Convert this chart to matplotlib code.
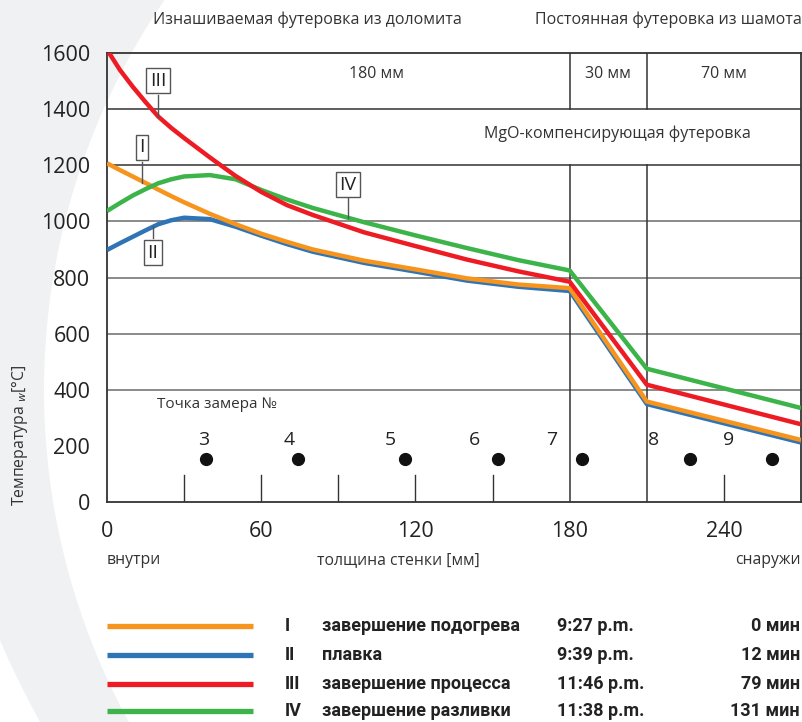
import numpy as np
import matplotlib
matplotlib.use("Agg")
import matplotlib.pyplot as plt
from matplotlib.patches import Circle

# ---------------- data ----------------
x_prof = [0, 5, 10, 15, 20, 25, 30, 40, 50, 60, 70, 80, 100, 120, 140, 160, 180, 210, 270]
temp_I = [1207, 1183, 1160, 1137, 1113, 1090, 1068, 1027, 990, 956, 927, 900, 860, 829, 797, 775, 762, 358, 221]
temp_II = [898, 922, 945, 968, 990, 1004, 1013, 1008, 981, 949, 919, 892, 852, 821, 789, 767, 752, 349, 212]
temp_III = [1612, 1540, 1480, 1425, 1373, 1333, 1297, 1228, 1162, 1105, 1058, 1023, 961, 912, 864, 822, 785, 418, 277]
temp_IV = [1037, 1065, 1092, 1115, 1136, 1150, 1160, 1165, 1150, 1112, 1078, 1048, 997, 950, 905, 862, 825, 475, 335]

point_x = [38.6, 74.4, 116, 152, 184.7, 226.7, 258.7]
point_y = [155] * 7
point_labels = ["3", "4", "5", "6", "7", "8", "9"]
point_label_x = [37.4, 70.9, 110.2, 142.9, 172.9, 212.7, 241.9]

x_ticks = [0, 60, 120, 180, 240]
y_ticks = [0, 200, 400, 600, 800, 1000, 1200, 1400, 1600]
minor_marks = [30, 60, 90, 120, 150, 240]

legend_roman = ["I", "II", "III", "IV"]
legend_desc = ["завершение подогрева", "плавка", "завершение процесса", "завершение разливки"]
legend_time = ["9:27 p.m.", "9:39 p.m.", "11:46 p.m.", "11:38 p.m."]
legend_min = ["0 мин", "12 мин", "79 мин", "131 мин"]

c_I, c_II, c_III, c_IV = "#f7941d", "#2f74b5", "#ed1c24", "#3cb44a"
colors = [c_I, c_II, c_III, c_IV]

plt.rcParams['font.family'] = ['Open Sans', 'DejaVu Sans']

W, H = 803, 722
fig = plt.figure(figsize=(W / 100, H / 100), dpi=100)
fig.patch.set_facecolor("white")

# background ring
def px(xp, yp):
    return (xp / 100, (H - yp) / 100)

outer = Circle(px(900, 250), 9.81, transform=fig.dpi_scale_trans, fc="#f0f1f3", ec="none", zorder=-10)
inner = Circle(px(736, 390), 6.92, transform=fig.dpi_scale_trans, fc="white", ec="none", zorder=-9)
fig.patches.extend([outer, inner])

ax = fig.add_axes([107 / W, 1 - 502 / H, (801 - 107) / W, (502 - 53) / H])
ax.patch.set_alpha(0)
ax.set_xlim(0, 270)
ax.set_ylim(0, 1600)

grid_c = "#6b6b6b"
for y in [400, 600, 800, 1000]:
    ax.axhline(y, color=grid_c, lw=1.1, zorder=1)
for y in [1200, 1400]:
    ax.axhline(y, color="#333333", lw=1.1, zorder=1)
for xv in [180, 210]:
    ax.plot([xv, xv], [0, 1200], color="#333333", lw=1.1, zorder=1)
    ax.plot([xv, xv], [1400, 1600], color="#333333", lw=1.1, zorder=1)
for xv in minor_marks:
    ax.plot([xv, xv], [0, 96], color="#333333", lw=1.0, zorder=1)

for s in ax.spines.values():
    s.set_color("#333333")
    s.set_linewidth(1.3)

ax.set_xticks(x_ticks)
ax.set_yticks(y_ticks)
ax.tick_params(length=0, labelsize=15.5, colors="#222222", pad=12)
ax.tick_params(axis='x', pad=14)

lw = 3.2
ax.plot(x_prof, temp_II, color=c_II, lw=lw, zorder=3, solid_capstyle='butt')
ax.plot(x_prof, temp_I, color=c_I, lw=lw, zorder=4, solid_capstyle='butt')
ax.plot(x_prof, temp_IV, color=c_IV, lw=lw, zorder=5, solid_capstyle='butt')
ax.plot(x_prof, temp_III, color=c_III, lw=lw, zorder=6, solid_capstyle='butt')

# curve labels with leader lines
box = dict(boxstyle="square,pad=0.18", fc="white", ec="#555555", lw=1.0)
labels = [("III", 19.9, 1502, 1452, 1371), ("I", 13.6, 1264, 1212, 1136),
          ("II", 17.9, 889, 940, 985), ("IV", 93.7, 1130, 1082, 1011)]
for t, lx, ly, y0, y1 in labels:
    ax.plot([lx, lx], [y0, y1], color="#555555", lw=1.0, zorder=7)
    ax.text(lx, ly, t, ha="center", va="center", fontsize=14, color="#222222", bbox=box, zorder=8)

txt_c = "#333333"
fs = 11.5
ax.text(105, 1525, "180 мм", ha="center", va="center", fontsize=fs, color=txt_c)
ax.text(195, 1525, "30 мм", ha="center", va="center", fontsize=fs, color=txt_c)
ax.text(240, 1525, "70 мм", ha="center", va="center", fontsize=fs, color=txt_c)
ax.text(198.7, 1311, "MgO-компенсирующая футеровка", ha="center", va="center", fontsize=fs, color=txt_c)

ax.text(19.5, 346, "Точка замера №", ha="left", va="center", fontsize=11, color=txt_c)
ax.plot(point_x, point_y, "o", color="#111111", ms=8.5, zorder=5)
for lxp, t in zip(point_label_x, point_labels):
    ax.text(lxp, 221, t, ha="center", va="center", fontsize=14, color="#222222")

fig.text(307 / W, 1 - 20 / H, "Изнашиваемая футеровка из доломита", ha="center", va="center", fontsize=fs, color=txt_c)
fig.text(668 / W, 1 - 20 / H, "Постоянная футеровка из шамота", ha="center", va="center", fontsize=fs, color=txt_c)

fig.text(107 / W, 1 - 560 / H, "внутри", ha="left", va="center", fontsize=11.3, color=txt_c)
fig.text(398 / W, 1 - 560 / H, "толщина стенки [мм]", ha="center", va="center", fontsize=11.3, color=txt_c)
fig.text(801 / W, 1 - 560 / H, "снаружи", ha="right", va="center", fontsize=11.3, color=txt_c)

fig.text(20 / W, 1 - 435 / H, "Температура $_{w}$[°C]", rotation=90, ha="center", va="center", fontsize=11.3, color=txt_c)

# legend
leg_y = [626, 655, 684, 711]
lfont = dict(fontsize=13, fontweight="bold", color="#222222", va="center",
             family=["Roboto", "DejaVu Sans"])
for i in range(4):
    yy = 1 - leg_y[i] / H
    fig.add_artist(plt.Line2D([107 / W, 253 / W], [yy, yy], color=colors[i], lw=3.8,
                              transform=fig.transFigure, solid_capstyle='butt'))
    fig.text(285 / W, yy, legend_roman[i], ha="left", **lfont)
    fig.text(322 / W, yy, legend_desc[i], ha="left", **lfont)
    fig.text(557 / W, yy, legend_time[i], ha="left", **lfont)
    fig.text(800 / W, yy, legend_min[i], ha="right", **lfont)

fig.savefig("out.png", dpi=100, facecolor="white")
